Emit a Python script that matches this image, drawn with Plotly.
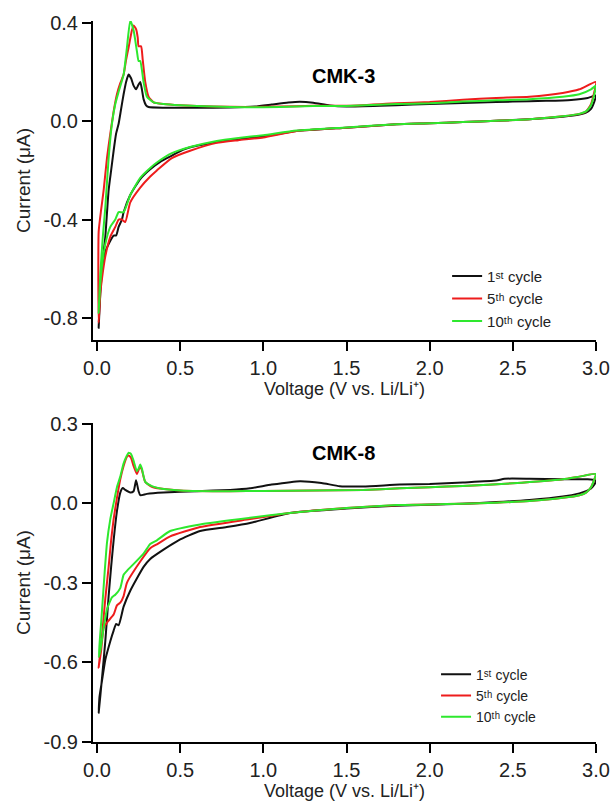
import plotly.graph_objects as go

# ---------------- DATA ----------------
# Each loop = cathodic sweep (3.0 -> 0.01 V) followed by anodic sweep (0.01 -> 3.0 V)

# CMK-3, 1st cycle
cmk3_c1_v = [3.0, 2.99, 2.97, 2.94, 2.9, 2.8, 2.6, 2.4, 2.2, 2.0, 1.8, 1.5, 1.2, 1.0, 0.85, 0.72, 0.6, 0.52, 0.45, 0.38, 0.32, 0.26, 0.20, 0.16, 0.15, 0.13, 0.115, 0.10, 0.085, 0.07, 0.05, 0.035, 0.02, 0.01,
             0.02, 0.035, 0.05, 0.07, 0.085, 0.10, 0.115, 0.13, 0.145, 0.16, 0.175, 0.19, 0.205, 0.22, 0.235, 0.25, 0.26, 0.27, 0.28, 0.295, 0.31, 0.4, 0.6, 0.8, 0.95, 1.05, 1.15, 1.22, 1.3, 1.4, 1.5, 1.7, 1.9, 2.1, 2.3, 2.5, 2.7, 2.85, 2.95, 3.0]
cmk3_c1_i = [0.105, 0.08, 0.05, 0.035, 0.027, 0.018, 0.008, 0.002, -0.003, -0.008, -0.012, -0.026, -0.04, -0.062, -0.073, -0.085, -0.10, -0.115, -0.14, -0.165, -0.195, -0.235, -0.30, -0.37, -0.40, -0.43, -0.465, -0.465, -0.48, -0.50, -0.53, -0.58, -0.68, -0.84,
             -0.70, -0.56, -0.47, -0.28, -0.20, -0.12, -0.05, -0.01, 0.05, 0.11, 0.16, 0.19, 0.175, 0.145, 0.13, 0.15, 0.16, 0.13, 0.09, 0.065, 0.058, 0.055, 0.055, 0.056, 0.06, 0.068, 0.076, 0.079, 0.075, 0.064, 0.06, 0.063, 0.068, 0.072, 0.076, 0.08, 0.083, 0.087, 0.095, 0.105]

# CMK-3, 5th cycle
cmk3_c5_v = [3.0, 2.99, 2.97, 2.94, 2.9, 2.8, 2.6, 2.4, 2.2, 2.0, 1.8, 1.5, 1.2, 1.0, 0.85, 0.72, 0.56, 0.45, 0.36, 0.32, 0.26, 0.20, 0.17, 0.15, 0.13, 0.11, 0.08, 0.05, 0.03, 0.02, 0.01,
             0.01, 0.025, 0.04, 0.06, 0.08, 0.10, 0.12, 0.14, 0.16, 0.175, 0.19, 0.21, 0.22, 0.235, 0.245, 0.25, 0.265, 0.275, 0.29, 0.31, 0.34, 0.4, 0.5, 0.7, 0.9, 1.1, 1.3, 1.5, 1.8, 2.0, 2.2, 2.4, 2.6, 2.8, 2.9, 3.0]
cmk3_c5_i = [0.16, 0.12, 0.07, 0.04, 0.03, 0.02, 0.008, 0.002, -0.003, -0.008, -0.012, -0.026, -0.04, -0.066, -0.077, -0.088, -0.12, -0.15, -0.20, -0.225, -0.27, -0.33, -0.41, -0.40, -0.40, -0.43, -0.47, -0.55, -0.64, -0.70, -0.82,
             -0.45, -0.36, -0.28, -0.15, -0.05, 0.04, 0.11, 0.155, 0.19, 0.25, 0.30, 0.37, 0.39, 0.375, 0.34, 0.305, 0.305, 0.25, 0.16, 0.10, 0.077, 0.07, 0.065, 0.06, 0.058, 0.06, 0.063, 0.063, 0.073, 0.078, 0.088, 0.095, 0.10, 0.115, 0.13, 0.16]

# CMK-3, 10th cycle
cmk3_c10_v = [3.0, 2.99, 2.97, 2.94, 2.9, 2.8, 2.6, 2.4, 2.2, 2.0, 1.8, 1.5, 1.2, 1.0, 0.85, 0.72, 0.56, 0.45, 0.36, 0.32, 0.26, 0.20, 0.16, 0.13, 0.11, 0.08, 0.05, 0.03, 0.02, 0.01,
              0.02, 0.035, 0.05, 0.07, 0.09, 0.11, 0.13, 0.16, 0.18, 0.20, 0.22, 0.24, 0.25, 0.26, 0.28, 0.30, 0.34, 0.4, 0.5, 0.7, 0.9, 1.1, 1.3, 1.5, 1.8, 2.0, 2.2, 2.4, 2.6, 2.8, 2.9, 2.97, 3.0]
cmk3_c10_i = [0.145, 0.11, 0.065, 0.04, 0.03, 0.02, 0.008, 0.002, -0.003, -0.008, -0.012, -0.025, -0.038, -0.057, -0.068, -0.08, -0.105, -0.13, -0.168, -0.19, -0.23, -0.30, -0.37, -0.37, -0.40, -0.43, -0.50, -0.59, -0.66, -0.78,
              -0.62, -0.47, -0.35, -0.15, -0.01, 0.07, 0.12, 0.19, 0.30, 0.41, 0.37, 0.285, 0.245, 0.245, 0.16, 0.10, 0.077, 0.07, 0.065, 0.06, 0.057, 0.058, 0.062, 0.062, 0.07, 0.073, 0.08, 0.085, 0.09, 0.10, 0.11, 0.13, 0.145]

# CMK-8, 1st cycle
cmk8_c1_v = [3.0, 2.99, 2.97, 2.94, 2.9, 2.8, 2.6, 2.4, 2.2, 2.0, 1.8, 1.5, 1.16, 0.92, 0.78, 0.62, 0.49, 0.40, 0.32, 0.28, 0.20, 0.16, 0.13, 0.115, 0.10, 0.08, 0.05, 0.03, 0.015, 0.01,
             0.03, 0.05, 0.07, 0.085, 0.10, 0.12, 0.14, 0.155, 0.17, 0.20, 0.22, 0.235, 0.25, 0.26, 0.3, 0.4, 0.6, 0.8, 0.92, 1.05, 1.22, 1.35, 1.46, 1.6, 1.82, 2.0, 2.2, 2.4, 2.45, 2.6, 2.8, 2.95, 3.0]
cmk8_c1_i = [0.085, 0.07, 0.055, 0.045, 0.037, 0.025, 0.012, 0.004, -0.002, -0.006, -0.01, -0.02, -0.037, -0.075, -0.09, -0.105, -0.14, -0.175, -0.21, -0.24, -0.33, -0.39, -0.46, -0.455, -0.48, -0.52, -0.59, -0.67, -0.73, -0.79,
             -0.66, -0.52, -0.35, -0.24, -0.14, -0.03, 0.04, 0.057, 0.05, 0.04, 0.045, 0.086, 0.045, 0.03, 0.035, 0.04, 0.045, 0.05, 0.056, 0.07, 0.083, 0.076, 0.064, 0.063, 0.07, 0.072, 0.078, 0.085, 0.092, 0.092, 0.09, 0.09, 0.085]

# CMK-8, 5th cycle
cmk8_c5_v = [3.0, 2.99, 2.97, 2.94, 2.9, 2.8, 2.6, 2.4, 2.2, 2.0, 1.8, 1.5, 1.16, 0.92, 0.62, 0.44, 0.36, 0.32, 0.26, 0.18, 0.16, 0.14, 0.12, 0.10, 0.06, 0.04, 0.025, 0.01,
             0.03, 0.05, 0.07, 0.085, 0.10, 0.12, 0.14, 0.16, 0.18, 0.19, 0.205, 0.22, 0.24, 0.25, 0.26, 0.27, 0.29, 0.33, 0.38, 0.5, 0.8, 1.0, 1.3, 1.6, 1.82, 2.0, 2.2, 2.5, 2.8, 2.9, 3.0]
cmk8_c5_i = [0.11, 0.09, 0.06, 0.04, 0.03, 0.02, 0.008, 0.002, -0.002, -0.005, -0.008, -0.018, -0.037, -0.06, -0.09, -0.125, -0.155, -0.17, -0.22, -0.30, -0.35, -0.375, -0.385, -0.42, -0.45, -0.47, -0.555, -0.62,
             -0.50, -0.36, -0.24, -0.14, -0.06, 0.02, 0.09, 0.14, 0.175, 0.18, 0.17, 0.14, 0.11, 0.125, 0.14, 0.125, 0.08, 0.062, 0.055, 0.048, 0.045, 0.046, 0.048, 0.05, 0.056, 0.06, 0.065, 0.075, 0.09, 0.10, 0.11]

# CMK-8, 10th cycle
cmk8_c10_v = [3.0, 2.99, 2.97, 2.94, 2.9, 2.8, 2.6, 2.4, 2.2, 2.0, 1.8, 1.5, 1.16, 0.92, 0.62, 0.44, 0.36, 0.32, 0.28, 0.18, 0.16, 0.14, 0.11, 0.09, 0.06, 0.04, 0.02, 0.01,
              0.025, 0.045, 0.06, 0.08, 0.10, 0.12, 0.14, 0.16, 0.18, 0.19, 0.205, 0.22, 0.24, 0.25, 0.26, 0.27, 0.29, 0.33, 0.38, 0.5, 0.8, 1.0, 1.3, 1.6, 1.82, 2.0, 2.2, 2.5, 2.8, 2.9, 3.0]
cmk8_c10_i = [0.11, 0.09, 0.06, 0.04, 0.03, 0.02, 0.008, 0.002, -0.002, -0.005, -0.007, -0.018, -0.037, -0.055, -0.08, -0.105, -0.14, -0.154, -0.19, -0.255, -0.27, -0.32, -0.345, -0.355, -0.40, -0.47, -0.555, -0.58,
              -0.45, -0.27, -0.15, -0.06, 0.0, 0.06, 0.10, 0.15, 0.18, 0.19, 0.185, 0.16, 0.12, 0.13, 0.146, 0.13, 0.08, 0.064, 0.055, 0.048, 0.045, 0.046, 0.048, 0.05, 0.056, 0.06, 0.065, 0.075, 0.09, 0.10, 0.11]

cycle_names = ["1\u02e2\u1d57 cycle", "5\u1d57\u02b0 cycle", "10\u1d57\u02b0 cycle"]
cycle_colors = ["#111111", "#ee1c1c", "#2ee82e"]
panel_titles = ["CMK-3", "CMK-8"]

top_yticks = [0.4, 0.0, -0.4, -0.8]
top_ylabels = ["0.4", "0.0", "-0.4", "-0.8"]
bot_yticks = [0.3, 0.0, -0.3, -0.6, -0.9]
bot_ylabels = ["0.3", "0.0", "-0.3", "-0.6", "-0.9"]
xticks = [0.0, 0.5, 1.0, 1.5, 2.0, 2.5, 3.0]
xlabels = ["0.0", "0.5", "1.0", "1.5", "2.0", "2.5", "3.0"]

# ---------------- FIGURE ----------------
FONT = "Arial, Liberation Sans, Helvetica, sans-serif"
fig = go.Figure()

top = [(cmk3_c1_v, cmk3_c1_i), (cmk3_c5_v, cmk3_c5_i), (cmk3_c10_v, cmk3_c10_i)]
bot = [(cmk8_c1_v, cmk8_c1_i), (cmk8_c5_v, cmk8_c5_i), (cmk8_c10_v, cmk8_c10_i)]

for k, (v, i) in enumerate(top):
    fig.add_trace(go.Scatter(x=v, y=i, mode="lines", name=cycle_names[k],
                             line=dict(color=cycle_colors[k], width=2, shape="spline", smoothing=0.5),
                             xaxis="x", yaxis="y", legend="legend"))
for k, (v, i) in enumerate(bot):
    fig.add_trace(go.Scatter(x=v, y=i, mode="lines", name=cycle_names[k],
                             line=dict(color=cycle_colors[k], width=2, shape="spline", smoothing=0.5),
                             xaxis="x2", yaxis="y2", legend="legend2"))

axis_common = dict(showline=True, linecolor="black", linewidth=2, ticks="outside", ticklen=9,
                   tickwidth=2, tickcolor="black", showgrid=False, zeroline=False, mirror=False,
                   automargin=False,
                   tickfont=dict(family=FONT, size=20, color="#222"))

xtitle = "Voltage (V vs. Li/Li\u207a)"
ytitle = "Current (\u03bcA)"
xtitle_font = dict(family=FONT, size=18, color="#222")
ytitle_font = dict(family=FONT, size=19, color="#222")

fig.update_layout(
    width=611, height=802, paper_bgcolor="white", plot_bgcolor="white",
    margin=dict(l=93, r=15, t=21, b=60, autoexpand=False),
    xaxis=dict(domain=[0, 1], range=[-0.024, 3.0], tickvals=xticks, ticktext=xlabels,
               anchor="y", title=dict(text=xtitle, standoff=2, font=xtitle_font), **axis_common),
    yaxis=dict(domain=[0.5576, 1.0], range=[-0.89, 0.408], tickvals=top_yticks, ticktext=top_ylabels,
               anchor="x", title=dict(text=ytitle, standoff=8, font=ytitle_font), **axis_common),
    xaxis2=dict(domain=[0, 1], range=[-0.024, 3.0], tickvals=xticks, ticktext=xlabels,
                anchor="y2", title=dict(text=xtitle, standoff=2, font=xtitle_font), **axis_common),
    yaxis2=dict(domain=[0, 0.4424], range=[-0.9, 0.302], tickvals=bot_yticks, ticktext=bot_ylabels,
                anchor="x2", title=dict(text=ytitle, standoff=8, font=ytitle_font), **axis_common),
    legend=dict(x=0.704, y=0.669, xanchor="left", yanchor="top", bgcolor="rgba(0,0,0,0)",
                font=dict(family=FONT, size=15, color="#222"), tracegroupgap=0, itemwidth=30),
    legend2=dict(x=0.682, y=0.1155, xanchor="left", yanchor="top", bgcolor="rgba(0,0,0,0)",
                 font=dict(family=FONT, size=14, color="#222"), tracegroupgap=0, itemwidth=30),
    showlegend=True,
)

fig.add_annotation(text="<b>" + panel_titles[0] + "</b>", x=1.48, y=0.183, xref="x", yref="y",
                   showarrow=False, xanchor="center", yanchor="middle",
                   font=dict(family=FONT, size=20, color="black"))
fig.add_annotation(text="<b>" + panel_titles[1] + "</b>", x=1.48, y=0.19, xref="x2", yref="y2",
                   showarrow=False, xanchor="center", yanchor="middle",
                   font=dict(family=FONT, size=20, color="black"))

fig.write_html("out.html")
